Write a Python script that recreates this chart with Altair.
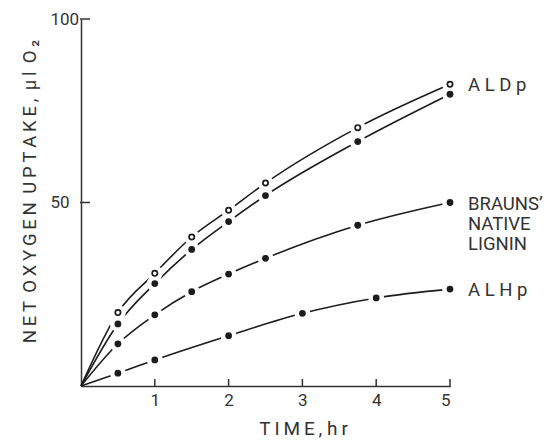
import altair as alt
import pandas as pd

# ---- data ----
t7 = [0.5, 1, 1.5, 2, 2.5, 3.75, 5]
t_alhp = [0.5, 1, 2, 3, 4, 5]
aldp_open = [20.0, 30.7, 40.6, 47.9, 55.3, 70.4, 82.2]
aldp_filled = [16.9, 27.9, 37.2, 44.8, 51.9, 66.6, 79.5]
brauns = [11.5, 19.4, 25.7, 30.5, 34.8, 43.8, 50.0]
alhp = [3.5, 7.1, 13.7, 19.8, 24.0, 26.4]

series_names = ["ALDp open", "ALDp filled", "Brauns", "ALHp"]
series_t = [t7, t7, t7, t_alhp]
series_v = [aldp_open, aldp_filled, brauns, alhp]
series_kind = ["open", "filled", "filled", "filled"]
series_label = ["A L D p", "", "BRAUNS\u2019\nNATIVE\nLIGNIN", "A L H p"]

x_tick_values = [1, 2, 3, 4, 5]
y_tick_values = [50, 100]

# ---- tables ----
line_rows, pt_rows, lab_rows = [], [], []
for name, ts, vs, kind, lab in zip(series_names, series_t, series_v, series_kind, series_label):
    line_rows.append({"s": name, "t": 0, "v": 0})
    for t, v in zip(ts, vs):
        line_rows.append({"s": name, "t": t, "v": v})
        pt_rows.append({"s": name, "t": t, "v": v, "kind": kind})
    if lab:
        lab_rows.append({"s": name, "t": ts[-1], "v": vs[-1], "label": lab})

line_df = pd.DataFrame(line_rows)
pt_df = pd.DataFrame(pt_rows)
lab_df = pd.DataFrame(lab_rows)
xt_df = pd.DataFrame({"t": x_tick_values, "v": [0] * len(x_tick_values)})
yt_df = pd.DataFrame({"t": [0] * len(y_tick_values), "v": y_tick_values})

INK = "#1c1c1c"
AX = "#333333"
FONT = "Roboto"
TS = "\u2009"
WS = " " + TS

y_title = (TS.join("NET") + WS + TS.join("OXYGEN") + WS + TS.join("UPTAKE,") + WS
           + TS.join("\u03bcl") + WS + "O" + TS + "\u2082")
x_title = TS.join("TIME,") + " " + TS.join("hr")

x_enc = alt.X("t:Q", scale=alt.Scale(domain=[0, 5], nice=False, zero=True),
              axis=alt.Axis(values=x_tick_values, format="d", ticks=False, tickSize=0, grid=False,
                            labelPadding=6, labelFont=FONT, labelFontSize=17, labelColor=AX,
                            domainColor=AX, domainWidth=1.5,
                            title=x_title, titleFont=FONT, titleFontSize=19,
                            titleFontWeight="normal", titleColor=AX,
                            titleX=222, titleY=48, titleBaseline="alphabetic",
                            titleAlign="center"))
y_enc = alt.Y("v:Q", scale=alt.Scale(domain=[0, 100], nice=False),
              axis=alt.Axis(values=y_tick_values, format="d", ticks=False, tickSize=0, grid=False,
                            labelAlign="left", labelPadding=31, labelBaseline="middle",
                            labelFont=FONT, labelFontSize=17, labelColor=AX,
                            domainColor=AX, domainWidth=1.5,
                            title=y_title, titleFont=FONT, titleFontSize=18.5,
                            titleFontWeight="normal", titleColor=AX,
                            titleX=-46, titleY=172, titleAngle=270,
                            titleBaseline="alphabetic", titleAlign="center"))

lines = alt.Chart(line_df).mark_line(interpolate="monotone", color=INK, strokeWidth=1.6).encode(
    x=x_enc, y=y_enc, detail="s:N")

halo = alt.Chart(pt_df).mark_point(shape="circle", filled=True, fill="white",
                                   strokeWidth=0, size=250, opacity=1).encode(
    x="t:Q", y="v:Q")

filled = alt.Chart(pt_df).transform_filter(alt.datum.kind == "filled").mark_circle(
    color=INK, size=46, opacity=1).encode(x="t:Q", y="v:Q")

openp = alt.Chart(pt_df).transform_filter(alt.datum.kind == "open").mark_point(
    shape="circle", filled=True, fill="white", stroke=INK, strokeWidth=1.7,
    size=28, opacity=1).encode(x="t:Q", y="v:Q")

labels = alt.Chart(lab_df).mark_text(
    align="left", baseline="top", dx=18, dy=-8, font=FONT, fontSize=18.5,
    color=AX, lineBreak="\n", lineHeight=20).encode(x="t:Q", y="v:Q", text="label:N")

xticks = alt.Chart(xt_df).mark_tick(orient="vertical", size=8, thickness=1.5,
                                    color=AX, yOffset=-3, opacity=1).encode(x="t:Q", y="v:Q")
yticks = alt.Chart(yt_df).mark_tick(orient="horizontal", size=10, thickness=1.5,
                                    color=AX, xOffset=4, opacity=1).encode(x="t:Q", y="v:Q")

chart = alt.layer(lines, halo, filled, openp, labels, xticks, yticks).properties(
    width=369, height=367,
    autosize=alt.AutoSizeParams(type="none"),
    padding={"left": 73, "top": 11, "right": 100, "bottom": 53},
    background="white",
).configure_view(stroke=None)

chart.save("out.html", embed_options={"renderer": "svg", "actions": False})
